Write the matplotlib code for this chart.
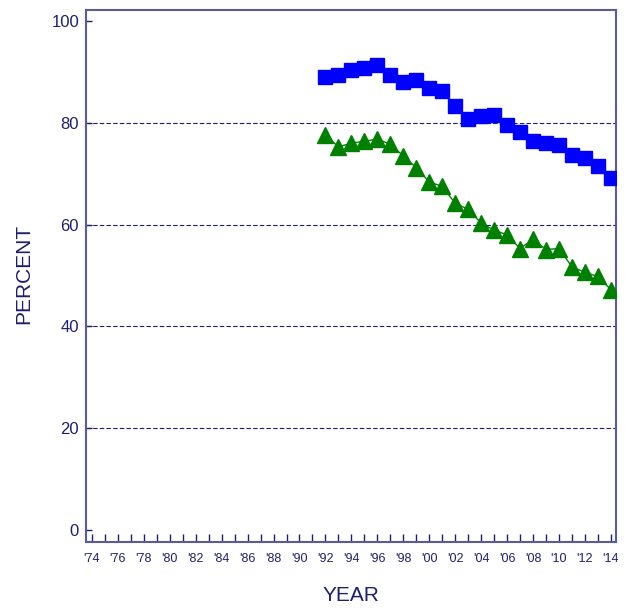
import matplotlib
matplotlib.use("Agg")
import matplotlib.pyplot as plt
import numpy as np

plt.rcParams['font.family'] = ['Liberation Sans', 'DejaVu Sans']

years = np.arange(1992, 2015)
blue_sq = [89.1, 89.5, 90.4, 90.7, 91.4, 89.5, 88.1, 88.4, 86.8, 86.3, 83.3, 80.7,
           81.3, 81.5, 79.6, 78.3, 76.5, 76.1, 75.6, 73.7, 73.0, 71.5, 69.1]
green_tri = [77.6, 75.3, 76.0, 76.4, 76.8, 75.8, 73.5, 71.2, 68.4, 67.5, 64.2, 63.0,
             60.3, 58.9, 58.0, 55.3, 57.1, 55.1, 55.3, 51.7, 50.6, 49.8, 47.2]
all_years = np.arange(1974, 2015)
tick_labels = [("'%02d" % (y % 100)) if (y - 1974) % 2 == 0 else '' for y in all_years]
y_ticks = [0, 20, 40, 60, 80, 100]
grid_vals = [20, 40, 60, 80]

navy = '#1e1e6e'
frame = '#5a5a9c'

fig = plt.figure(figsize=(6.28, 6.08), dpi=100)
ax = fig.add_axes([0.137, 0.1086, 0.844, 0.875])

for g in grid_vals:
    ax.axhline(g, color=navy, lw=0.8, ls=(0, (4, 2)), zorder=1)

ax.plot(years, blue_sq, color='#0000ff', lw=1, marker='s', ms=10, zorder=3)
ax.plot(years, green_tri, color='#008000', lw=1, marker='^', ms=11, zorder=3)

ax.set_xlim(1973.55, 2014.4)
ax.set_ylim(-2.4, 102.2)

ax.set_xticks(all_years)
ax.set_xticklabels(tick_labels)
ax.set_yticks(y_ticks)
ax.tick_params(axis='x', direction='in', length=6, width=1, color=navy,
               labelsize=9, labelcolor=navy, pad=8)
ax.tick_params(axis='y', direction='in', length=4.5, width=1, color=navy,
               labelsize=12, labelcolor=navy, pad=5)

for s in ax.spines.values():
    s.set_color(frame)
    s.set_linewidth(1.5)

fig.text(0.559, 0.02, 'YEAR', color=navy, fontsize=15, ha='center', va='center')
fig.text(0.038, 0.549, 'PERCENT', color=navy, fontsize=15, ha='center', va='center',
         rotation=90)

fig.savefig('out.png', dpi=100)
